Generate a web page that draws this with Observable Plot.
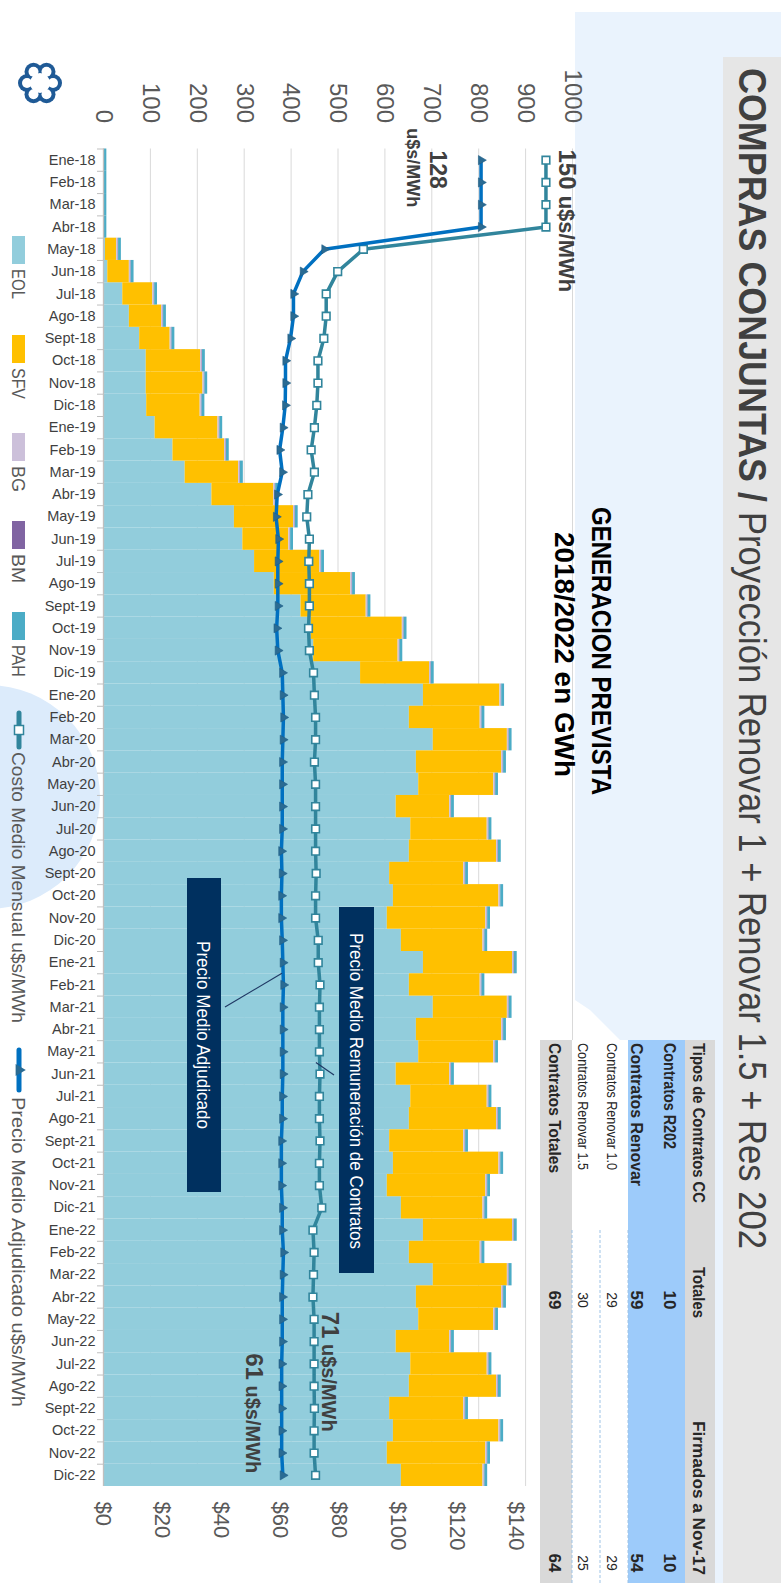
<!DOCTYPE html>
<html>
<head>
<meta charset="utf-8">
<script src="https://cdn.jsdelivr.net/npm/d3@7"></script>
<script src="https://cdn.jsdelivr.net/npm/@observablehq/plot@0.6"></script>
<style>
html, body { margin: 0; padding: 0; background: #fff; overflow: hidden; }
#page { position: relative; width: 781px; height: 1583px; overflow: hidden; background: #fff; }
#slide { position: absolute; left: 0; top: 0; width: 1583px; height: 781px;
  transform-origin: 0 0; transform: translate(781px, 0) rotate(90deg); }
#slide > svg { position: absolute; left: 0; top: 0; overflow: visible; }
</style>
</head>
<body>
<div id="page"><div id="slide"></div></div>
<script>
// ---------------- DATA ----------------
const monthNames = ["Ene","Feb","Mar","Abr","May","Jun","Jul","Ago","Sept","Oct","Nov","Dic"];
const yearSuffixes = ["18","19","20","21","22"];
const months = yearSuffixes.flatMap(y => monthNames.map(m => `${m}-${y}`));

// Generación prevista (GWh)
const eol = [
  0,0,0,0,2,7,39,53,75,89,89,90,
  108,146,172,229,277,295,320,362,419,441,446,546,
  680,650,701,665,670,622,653,650,608,616,603,633,
  680,650,701,665,670,622,653,650,608,616,603,633,
  680,650,701,665,670,622,653,650,608,616,603,633
];
const sfv = [
  0,0,0,0,24,46,64,69,65,116,121,114,
  134,110,114,132,126,98,139,163,139,194,180,147,
  163,151,158,182,160,114,163,186,158,225,210,174,
  190,151,158,182,160,114,163,186,158,225,210,174,
  190,151,158,182,160,114,163,186,158,225,210,174
];
const bg = [0,0,0,0, ...Array(56).fill(3)];
const bm = [0,0,0,0, ...Array(56).fill(1)];
const pah = [5,5,5,5, ...Array(56).fill(6)];

// Precios (u$s/MWh)
const costoMedioMensual = [
  150,150,150,150,88.1,79.4,75.5,75.5,74.7,72.7,72.7,72.3,
  71.5,70.4,71.5,69.3,68.9,69.8,69.6,69.8,69.8,69.5,69.8,71.2,
  71.5,71.9,71.9,71.5,71.9,71.9,71.9,71.9,72.1,71.9,71.9,72.8,
  72.8,73.4,73.2,73.2,73.2,73.4,73.2,73.2,73.4,73.2,73.2,74.0,
  71.0,71.4,71.2,71.0,71.4,71.4,71.4,71.4,71.5,71.4,71.4,71.9
];
const precioMedioAdjudicado = [
  128,128,128,128,74.9,67.6,64.4,64.4,63.4,61.7,61.7,61.6,
  60.8,59.7,60.6,58.9,58.5,59.3,59.1,59.1,59.1,58.7,59.1,60.6,
  60.8,61.0,60.8,60.6,60.6,60.6,60.6,60.3,60.5,60.3,60.3,60.6,
  60.8,61.0,60.8,60.8,60.8,60.8,60.6,60.6,60.3,60.3,60.3,60.6,
  60.6,61.0,60.8,60.6,60.6,60.6,60.4,60.4,60.4,60.4,60.4,60.8
];

const seriesNames = ["EOL","SFV","BG","BM","PAH"];
const seriesColors = ["#92CDDC","#FFC000","#CCC0DA","#8064A2","#4BACC6"];
const gwhTicks = [0,100,200,300,400,500,600,700,800,900,1000];
const usdTicks = [0,20,40,60,80,100,120,140];

const titleBold = "COMPRAS CONJUNTAS /";
const titleRest = "Proyección Renovar 1 + Renovar 1.5 + Res 202";
const chartTitle = ["GENERACION PREVISTA", "2018/2022 en GWh"];
const lineNames = ["Costo Medio Mensual u$s/MWh", "Precio Medio Adjudicado u$s/MWh"];
const boxLabels = ["Precio Medio Adjudicado", "Precio Medio Remuneración de Contratos"];

const tableLabels = ["Tipos de Contratos CC","Contratos R202","Contratos Renovar","Contratos Renovar 1.0","Contratos Renovar 1.5","Contratos Totales"];
const tableTotales = ["Totales","10","59","29","30","69"];
const tableFirmados = ["Firmados a Nov-17","10","54","29","25","64"];

// ---------------- LAYOUT ----------------
const W = 1583, H = 781;
const M = {top: 208, right: 97, bottom: 104, left: 148.5};
const FR = "'Liberation Sans',Arial,sans-serif";
const step = (W - M.left - M.right) / months.length;

const seriesValues = [eol, sfv, bg, bm, pah];
const gen = seriesNames.flatMap((s, i) => months.map((m, j) => ({month: m, serie: s, gwh: seriesValues[i][j]})));
const prices = months.map((m, j) => ({month: m, costo: costoMedioMensual[j], adj: precioMedioAdjudicado[j]}));

const slide = document.getElementById("slide");

// ---------- background decorations ----------
const back = d3.create("svg").attr("width", W).attr("height", H);
back.append("polygon")
  .attr("points", "12,206 12,0 1583,0 1583,141 1060,141 1010,191 1000,206")
  .attr("fill", "#EAF3FD");
back.append("circle").attr("cx", 797).attr("cy", 793).attr("r", 112).attr("fill", "#DCEBFB");
back.append("rect").attr("x", 57).attr("y", 0).attr("width", W - 57).attr("height", 58).attr("fill", "#E6E6E6");
slide.appendChild(back.node());

const common = {
  width: W, height: H,
  marginTop: M.top, marginRight: M.right, marginBottom: M.bottom, marginLeft: M.left,
  style: {background: "transparent", fontFamily: FR, overflow: "visible"}
};

// ---------- generation bars ----------
const plot1 = Plot.plot({
  ...common,
  x: {type: "band", domain: months, padding: 0, round: false, label: null},
  y: {domain: [0, 1000], label: null, axis: null},
  color: {domain: seriesNames, range: seriesColors},
  marks: [
    Plot.gridY({ticks: gwhTicks, stroke: "#d9d9d9", strokeOpacity: 1, strokeWidth: 1}),
    Plot.barY(gen, {x: "month", y: "gwh", fill: "serie"}),
    Plot.ruleY([0], {stroke: "#bfbfbf", strokeWidth: 1.3}),
    Plot.axisY({ticks: gwhTicks, tickFormat: d => `${d}`, anchor: "left", tickSize: 0, tickPadding: 26, fontSize: 24, fill: "#595959", label: null}),
    Plot.axisX({ticks: months, anchor: "bottom", tickSize: 0, tickPadding: 8, tickRotate: -90, fontSize: 14.5, fill: "#3f3f3f", label: null}),
    Plot.axisX({ticks: months, anchor: "bottom", tickSize: 7, dx: -step / 2, tickFormat: () => "", stroke: "#bfbfbf", label: null})
  ]
});
slide.appendChild(plot1);

// ---------- price lines ----------
const plot2 = Plot.plot({
  ...common,
  x: {type: "band", domain: months, padding: 0, round: false, axis: null},
  y: {domain: [0, 159], label: null, axis: null},
  marks: [
    Plot.line(prices, {x: "month", y: "costo", stroke: "#31859C", strokeWidth: 3.5}),
    Plot.dot(prices, {x: "month", y: "costo", symbol: "square", r: 4.3, fill: "#fff", stroke: "#31859C", strokeWidth: 1.6}),
    Plot.line(prices, {x: "month", y: "adj", stroke: "#0070C0", strokeWidth: 3.5}),
    Plot.dot(prices, {x: "month", y: "adj", symbol: "triangle", r: 3.4, fill: "#2A6B93", stroke: "#1F5C85", strokeWidth: 0.6}),
    Plot.axisY({ticks: usdTicks, anchor: "right", tickFormat: d => "$" + d, tickSize: 0, tickPadding: 15, fontSize: 22, fill: "#595959", label: null})
  ]
});
slide.appendChild(plot2);

const xs = plot2.scale("x"), ys = plot2.scale("y");
const cx = m => xs.apply(m) + xs.bandwidth / 2;

// ---------- front overlay ----------
const front = d3.create("svg").attr("width", W).attr("height", H).style("font-family", FR);
const fitText = (x, y, str, size, len, weight, fill) => {
  const t = front.append("text").attr("x", x).attr("y", y).attr("fill", fill || "#262626")
    .attr("font-weight", weight || "normal").style("font-size", size + "px").text(str);
  if (len) t.attr("textLength", len).attr("lengthAdjust", "spacingAndGlyphs");
  return t;
};

// title
fitText(68, 42, titleBold, 39, 434, "bold", "#404040");
fitText(512, 42, titleRest, 39, 737, "normal", "#404040");

// chart title
fitText(507, 189, chartTitle[0], 27, 288, "bold", "#000");
fitText(532, 226, chartTitle[1], 28, 245, "bold", "#000");

// value labels
const lab = (x, y, big, small, bigSize, smallSize) => {
  const t = front.append("text").attr("x", x).attr("y", y).attr("fill", "#404040").attr("font-weight", "bold");
  t.append("tspan").style("font-size", bigSize + "px").text(big);
  if (small) t.append("tspan").style("font-size", smallSize + "px").text(small);
  return t;
};
lab(xs.apply(months[0]) + 1, ys.apply(costoMedioMensual[0]) - 13, "150", " u$s/MWh", 24, 22);
lab(cx(months[0]) + 10, ys.apply(precioMedioAdjudicado[0]) + 52, "128", null, 23).attr("text-anchor", "middle");
lab(cx(months[0]) + 8, ys.apply(precioMedioAdjudicado[0]) + 75, "u$s/MWh", null, 18).attr("text-anchor", "middle");
lab(xs.apply("May-22") + 4, ys.apply(71.4) - 7, "71", " u$s/MWh", 24, 20);
lab(xs.apply("Jul-22") + 1, ys.apply(60.4) + 36, "61", " u$s/MWh", 24, 20);

// annotation boxes
front.append("rect").attr("x", 878).attr("y", 560).attr("width", 314).attr("height", 34).attr("fill", "#00305F");
fitText(941, 584, boxLabels[0], 19, 188, "normal", "#fff");
front.append("rect").attr("x", 907).attr("y", 407).attr("width", 366).attr("height", 35).attr("fill", "#00305F");
fitText(933, 431, boxLabels[1], 19, 316, "normal", "#fff");
front.append("line").attr("x1", xs.apply("Feb-21")).attr("y1", ys.apply(61) + 2).attr("x2", 1007).attr("y2", 556)
  .attr("stroke", "#1F3864").attr("stroke-width", 1.2);
front.append("line").attr("x1", xs.apply("Jun-21")).attr("y1", ys.apply(73.2) + 4).attr("x2", 1075).attr("y2", 447)
  .attr("stroke", "#1F3864").attr("stroke-width", 1.2);

// table
const tx0 = 1040;
front.append("rect").attr("x", tx0).attr("y", 66).attr("width", W - tx0).attr("height", 30).attr("fill", "#D9D9D9");
front.append("rect").attr("x", tx0).attr("y", 96).attr("width", W - tx0).attr("height", 57).attr("fill", "#9DCBFA");
front.append("rect").attr("x", tx0).attr("y", 153).attr("width", W - tx0).attr("height", 56).attr("fill", "#FFFFFF");
front.append("rect").attr("x", tx0).attr("y", 209).attr("width", W - tx0).attr("height", 32).attr("fill", "#D9D9D9");
[153, 181, 209].forEach(y => front.append("line").attr("x1", 1230).attr("x2", W).attr("y1", y).attr("y2", y)
  .attr("stroke", "#9DC3E6").attr("stroke-dasharray", "3,2").attr("stroke-width", 1));
const rowY = [88.5, 117.5, 150, 174.5, 203, 232];
const rowBold = [true, true, true, false, false, true];
const labelLen = [160, 106, 143, 127, 127, 130];
tableLabels.forEach((s, i) => {
  const size = rowBold[i] ? 17 : 14;
  const w = rowBold[i] ? "bold" : "normal";
  fitText(1043, rowY[i], s, size, labelLen[i], w);
  if (i === 0) {
    fitText(1267, rowY[i], tableTotales[i], size, 51, w);
    fitText(1421, rowY[i], tableFirmados[i], size, 154, w);
  } else {
    fitText(1300, rowY[i], tableTotales[i], size, null, w).attr("text-anchor", "middle");
    fitText(1563, rowY[i], tableFirmados[i], size, null, w).attr("text-anchor", "middle");
  }
});

// legend
const legX = [236, 335, 433, 521, 612];
const legLen = [30, 31, 26, 29, 32];
seriesNames.forEach((s, i) => {
  front.append("rect").attr("x", legX[i]).attr("y", 756).attr("width", 28).attr("height", 13).attr("fill", seriesColors[i]);
  fitText(legX[i] + 33, 769, s, 18, legLen[i], "normal", "#595959");
});
front.append("line").attr("x1", 713).attr("x2", 747).attr("y1", 762).attr("y2", 762).attr("stroke", "#31859C").attr("stroke-width", 5).attr("stroke-linecap", "round");
front.append("rect").attr("x", 725.5).attr("y", 757.5).attr("width", 9).attr("height", 9).attr("fill", "#fff").attr("stroke", "#31859C").attr("stroke-width", 1.5);
fitText(752, 769, lineNames[0], 19, 271, "normal", "#595959");
front.append("line").attr("x1", 1050).attr("x2", 1090).attr("y1", 762).attr("y2", 762).attr("stroke", "#0070C0").attr("stroke-width", 5).attr("stroke-linecap", "round");
front.append("path").attr("d", d3.symbol(d3.symbolTriangle, 60)()).attr("transform", "translate(1070,762)").attr("fill", "#2A6B93");
fitText(1097, 769, lineNames[1], 19, 310, "normal", "#595959");

// logo
const logo = front.append("g").attr("transform", "translate(83,741)");
for (let k = 0; k < 6; k++) {
  const a = k * Math.PI / 3 + Math.PI / 6;
  logo.append("circle").attr("cx", 13 * Math.cos(a)).attr("cy", 13 * Math.sin(a)).attr("r", 9).attr("fill", "#1F5A96");
}
logo.append("circle").attr("r", 13).attr("fill", "#1F5A96");
logo.append("circle").attr("r", 10).attr("fill", "#fff");
for (let k = 0; k < 6; k++) {
  const a = k * Math.PI / 3 + Math.PI / 6;
  logo.append("circle").attr("cx", 13 * Math.cos(a)).attr("cy", 13 * Math.sin(a)).attr("r", 5).attr("fill", "#fff");
}

slide.appendChild(front.node());
</script>
</body>
</html>
